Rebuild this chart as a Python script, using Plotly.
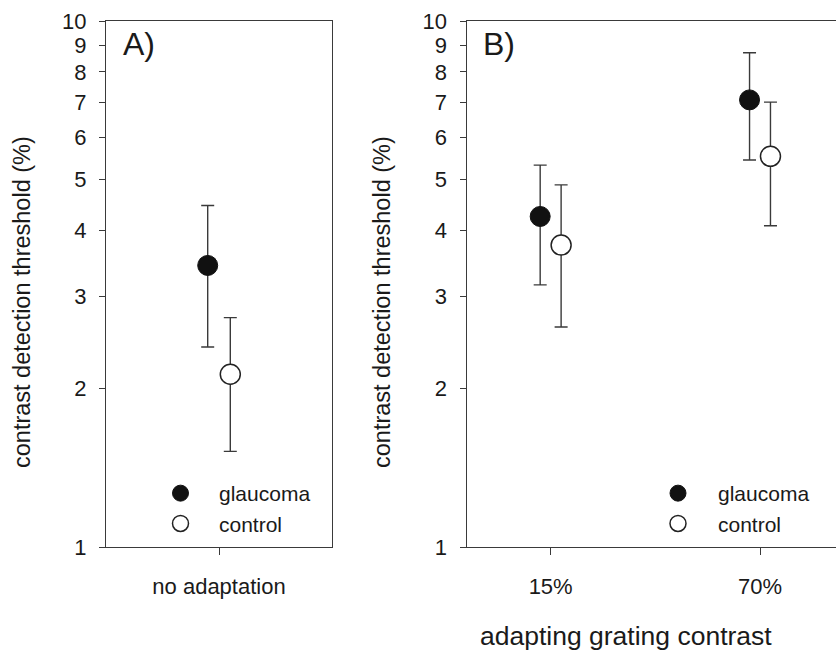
import plotly.graph_objects as go

# ---------------- data ----------------
categories_A = ["no adaptation"]
glaucoma_A = [3.43]
glaucoma_A_hi = [4.46]
glaucoma_A_lo = [2.40]
control_A = [2.13]
control_A_hi = [2.73]
control_A_lo = [1.52]

categories_B = ["15%", "70%"]
glaucoma_B = [4.25, 7.08]
glaucoma_B_hi = [5.32, 8.70]
glaucoma_B_lo = [3.15, 5.44]
control_B = [3.75, 5.53]
control_B_hi = [4.88, 7.01]
control_B_lo = [2.62, 4.08]

y_ticks = [1, 2, 3, 4, 5, 6, 7, 8, 9, 10]

# ---------------- style ----------------
W, H = 836, 650
FONT = "Liberation Sans, Arial, sans-serif"
TXT = "#1a1a1a"
LINE = "#3a3a3a"
LW = 1.4
MS = 20
dodge_A = 0.1
dodge_B = 0.05


def px_x(p):
    return p / W


def px_y(p):
    return 1 - p / H


def err(vals, hi, lo):
    return dict(type="data", symmetric=False,
                array=[h - v for v, h in zip(vals, hi)],
                arrayminus=[v - l for v, l in zip(vals, lo)],
                color=LINE, thickness=LW, width=6.5)


fig = go.Figure()

filled = dict(size=MS, color="#111111", line=dict(color="#111111", width=1))
hollow = dict(size=MS, color="white", line=dict(color="#222222", width=1.5))

# panel A
xa = list(range(len(categories_A)))
fig.add_trace(go.Scatter(x=[i - dodge_A for i in xa], y=glaucoma_A, mode="markers",
                         marker=filled, error_y=err(glaucoma_A, glaucoma_A_hi, glaucoma_A_lo),
                         name="glaucoma", xaxis="x", yaxis="y", legend="legend"))
fig.add_trace(go.Scatter(x=[i + dodge_A for i in xa], y=control_A, mode="markers",
                         marker=hollow, error_y=err(control_A, control_A_hi, control_A_lo),
                         name="control", xaxis="x", yaxis="y", legend="legend"))

# panel B
xb = list(range(len(categories_B)))
fig.add_trace(go.Scatter(x=[i - dodge_B for i in xb], y=glaucoma_B, mode="markers",
                         marker=filled, error_y=err(glaucoma_B, glaucoma_B_hi, glaucoma_B_lo),
                         name="glaucoma", xaxis="x2", yaxis="y2", legend="legend2"))
fig.add_trace(go.Scatter(x=[i + dodge_B for i in xb], y=control_B, mode="markers",
                         marker=hollow, error_y=err(control_B, control_B_hi, control_B_lo),
                         name="control", xaxis="x2", yaxis="y2", legend="legend2"))

ydom = [px_y(547), px_y(21)]

common_x = dict(showgrid=False, zeroline=False, showline=True, linecolor=LINE, linewidth=LW,
                ticks="outside", ticklen=7, tickwidth=LW, tickcolor=LINE,
                tickfont=dict(family=FONT, size=22, color=TXT), ticklabelstandoff=12,
                fixedrange=True)
common_y = dict(type="log", range=[0, 1], showgrid=False, zeroline=False, showline=True,
                linecolor=LINE, linewidth=LW, ticks="outside", ticklen=6, tickwidth=LW,
                tickcolor=LINE, tickvals=y_ticks, ticktext=[str(v) for v in y_ticks],
                tickfont=dict(family=FONT, size=22, color=TXT), ticklabelstandoff=8,
                domain=ydom, fixedrange=True)

leg_common = dict(xanchor="left", yanchor="top", bgcolor="rgba(0,0,0,0)",
                  tracegroupgap=0, font=dict(family=FONT, size=21, color=TXT),
                  itemsizing="trace")

fig.update_layout(
    width=W, height=H,
    margin=dict(l=0, r=0, t=0, b=0, autoexpand=False),
    paper_bgcolor="white", plot_bgcolor="white",
    xaxis=dict(common_x, domain=[px_x(106), px_x(332)], range=[-1, 1],
               tickvals=xa, ticktext=categories_A, mirror=True, anchor="y"),
    yaxis=dict(common_y, anchor="x", mirror=True),
    xaxis2=dict(common_x, domain=[px_x(466.7), 1.0], range=[-0.401, 1.363],
                tickvals=xb, ticktext=categories_B, mirror=True, anchor="y2"),
    yaxis2=dict(common_y, anchor="x2", mirror=False),
    legend=dict(leg_common, x=px_x(142), y=px_y(473), itemwidth=67),
    legend2=dict(leg_common, x=px_x(638), y=px_y(473), itemwidth=70),
    showlegend=True,
)

annos = [
    dict(text="A)", x=px_x(121), y=px_y(24), xanchor="left", yanchor="top",
         font=dict(family=FONT, size=32, color=TXT)),
    dict(text="B)", x=px_x(481), y=px_y(24), xanchor="left", yanchor="top",
         font=dict(family=FONT, size=32, color=TXT)),
    dict(text="contrast detection threshold (%)", x=px_x(22), y=px_y(302), textangle=-90,
         xanchor="center", yanchor="middle", font=dict(family=FONT, size=23.5, color=TXT)),
    dict(text="contrast detection threshold (%)", x=px_x(382), y=px_y(302), textangle=-90,
         xanchor="center", yanchor="middle", font=dict(family=FONT, size=23.5, color=TXT)),
    dict(text="adapting grating contrast", x=px_x(626), y=px_y(636),
         xanchor="center", yanchor="middle", font=dict(family=FONT, size=26.5, color=TXT)),
]
for a in annos:
    a.update(xref="paper", yref="paper", showarrow=False)
fig.update_layout(annotations=annos)

fig.write_html(
    "out.html",
    config={"displayModeBar": False},
    post_script="document.body.style.margin='0';document.body.style.padding='0';"
                "document.body.style.overflow='hidden';",
)
